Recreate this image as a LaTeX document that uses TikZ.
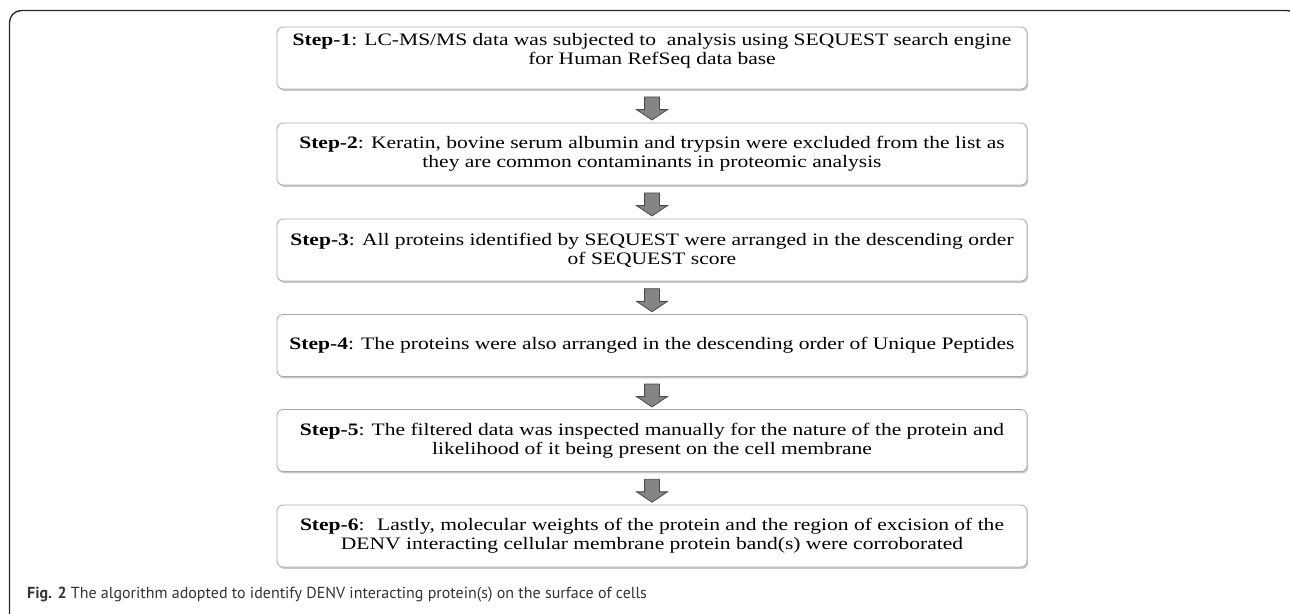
\documentclass[tikz,border=0pt]{standalone}
\usepackage{fontspec}
\setmainfont{Liberation Serif}
\newfontfamily\boxfont[FakeStretch=1.23]{Liberation Serif}
\newfontfamily\capfont{PT Sans}
\usetikzlibrary{shapes.arrows,shadows,calc}
\definecolor{boxline}{HTML}{A8A8A8}
\definecolor{arrfill}{HTML}{858585}
\definecolor{arrline}{HTML}{4A4A4A}
\definecolor{captext}{HTML}{333333}
\tikzset{
  stepbox/.style={draw=boxline, line width=0.8pt, fill=white, rounded corners=6pt,
    minimum width=750pt, minimum height=62pt, inner sep=0pt, align=center,
    font=\boxfont\fontsize{17.5}{19}\selectfont,
    drop shadow={shadow xshift=1.2pt, shadow yshift=-1.8pt, fill=black, opacity=0.22}},
  downarrow/.style={single arrow, draw=arrline, fill=arrfill, line width=0.8pt,
    rotate=-90, minimum height=23pt, inner xsep=0pt, inner ysep=7pt,
    single arrow head extend=8pt, single arrow tip angle=112},
  frameline/.style={draw=black!85, line width=1.3pt, rounded corners=12pt}
}
\begin{document}
\begin{tikzpicture}[x=1pt,y=-1pt]
\useasboundingbox (0,0) rectangle (1290,613);
\begin{scope}
\clip (0,0) rectangle (1290,613);
\draw[frameline] (9.5,620) -- (9.5,10.5) -- (1299,10.5) -- (1299,620);
\end{scope}
\node[stepbox, text depth=19pt] (b1) at (652,58) {\textbf{Step-1}: LC-MS/MS data was subjected to \ analysis using SEQUEST search engine\\ for Human RefSeq data base};
\node[stepbox] (b2) at (652,154) {\textbf{Step-2}: Keratin, bovine serum albumin and trypsin were excluded from the list as\\ they are common contaminants in proteomic analysis};
\node[stepbox] (b3) at (652,250) {\textbf{Step-3}: All proteins identified by SEQUEST were arranged in the descending order\\ of SEQUEST score};
\node[stepbox] (b4) at (652,345.5) {\textbf{Step-4}: The proteins were also arranged in the descending order of Unique Peptides};
\node[stepbox] (b5) at (652,440.5) {\textbf{Step-5}: The filtered data was inspected manually for the nature of the protein and\\ likelihood of it being present on the cell membrane};
\node[stepbox] (b6) at (652,536) {\textbf{Step-6}: \ Lastly, molecular weights of the protein and the region of excision of the\\ DENV interacting cellular membrane protein band(s) were corroborated};
\foreach \a/\b [count=\i] in {b1/b2,b2/b3,b3/b4,b4/b5,b5/b6}
  \node[downarrow] (a\i) at ($(\a.south)!0.5!(\b.north)$) {};
\node[anchor=base west, inner sep=0pt, text=captext, font=\capfont\fontsize{16}{19}\selectfont] (cap) at (27,598) {\textbf{Fig. 2} The algorithm adopted to identify DENV interacting protein(s) on the surface of cells};
\end{tikzpicture}
\end{document}
